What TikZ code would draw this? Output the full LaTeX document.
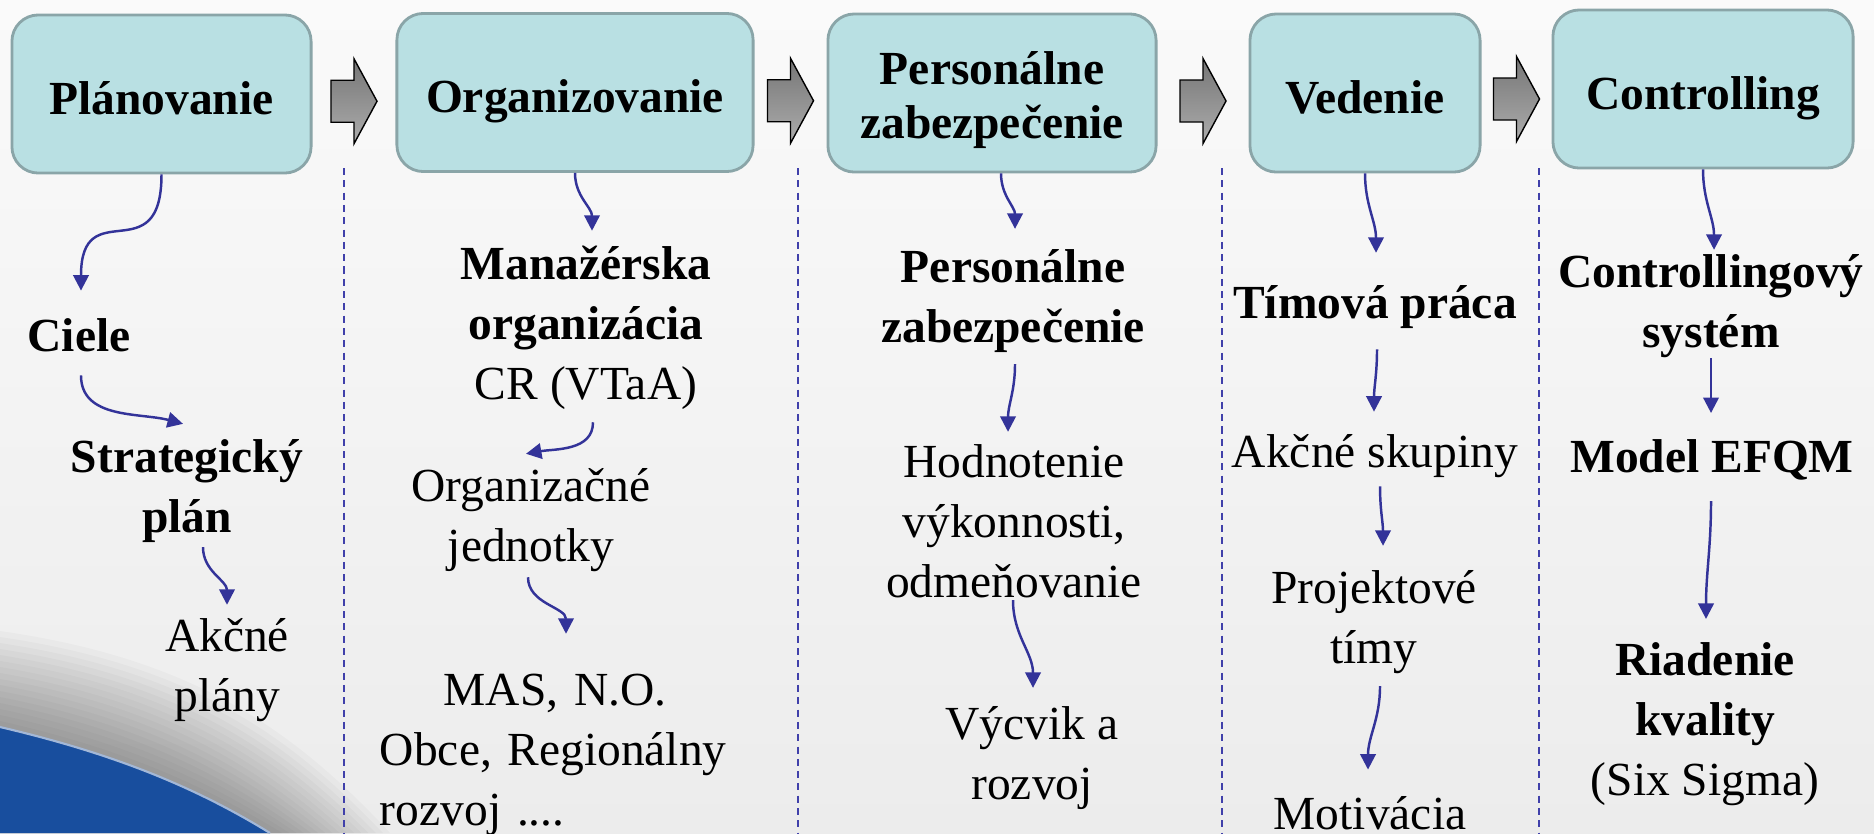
\documentclass[tikz,border=0pt]{standalone}
\usepackage{fontspec}
\setmainfont{Liberation Serif}
\usetikzlibrary{positioning,arrows.meta,calc}

\definecolor{boxfill}{RGB}{185,224,227}
\definecolor{boxline}{RGB}{138,165,168}
\definecolor{linkblue}{RGB}{51,51,153}
\definecolor{sepblue}{RGB}{64,64,170}
\definecolor{swoosh}{RGB}{24,78,158}
\definecolor{bgtop}{RGB}{250,250,250}
\definecolor{bgbot}{RGB}{236,236,236}
\definecolor{arrtop}{RGB}{118,118,118}
\definecolor{arrbot}{RGB}{172,172,172}

\newcommand{\bodyfont}{\fontsize{13.5pt}{17pt}\selectfont}

\tikzset{
  phase/.style={draw=boxline, line width=0.8pt, fill=boxfill, rounded corners=7.5pt,
    align=center, font=\fontsize{13.5pt}{15.5pt}\selectfont\bfseries,
    minimum height=1.58cm, inner sep=0pt, text height=12.8pt, text depth=1.2pt},
  item/.style={align=center, inner sep=0pt, font=\bodyfont},
  itemb/.style={item, font=\bodyfont\bfseries},
  link/.style={draw=linkblue, line width=0.7pt, -{Triangle[width=4.4pt,length=4.4pt]}},
  sep/.style={sepblue, line width=0.55pt, dash pattern=on 2pt off 1.5pt},
  gaparrow/.style={draw=black, line width=0.4pt, top color=arrtop, bottom color=arrbot},
}

% grey block arrow halfway between two phase boxes
\newcommand{\gapArrow}[2]{%
  \coordinate (#1-#2) at ($(#1.east)!0.5!(#2.west)+(0,-8)$);
  \draw[gaparrow] ($(#1-#2)+(-23,21)$) -- ++(23,0) -- ++(0,21.5) -- ++(23,-42.5)
    -- ++(-23,-42.5) -- ++(0,21.5) -- ++(-23,0) -- cycle;}

\begin{document}
\begin{tikzpicture}[x=0.01cm, y=0.01cm]
  \useasboundingbox (0,0) rectangle (1874,-833);
  % background
  \shade[top color=bgtop, bottom color=bgbot] (0,0) rectangle (1874,-833);
  \foreach \d in {96,90,...,6}
    \fill[black, opacity=0.022] (0,-727+\d) .. controls (120+0.8*\d,-755+\d) and (200+\d,-790+0.6*\d)
      .. (275+1.2*\d,-833) -- (0,-833) -- cycle;
  \fill[swoosh] (0,-727) .. controls (120,-755) and (200,-790) .. (270,-833) -- (0,-833) -- cycle;
  \draw[white!60!swoosh, line width=0.6pt] (0,-727) .. controls (120,-755) and (200,-790) .. (270,-833);

  % phases
  \node[phase, minimum width=2.99cm] (plan) at (161.5,-94) {Plánovanie};
  \node[phase, minimum width=3.56cm] (org)  at (575,-92.5) {Organizovanie};
  \node[phase, minimum width=3.28cm, text height={}, text depth={}] (pers) at (992,-93)
    {\rule{0pt}{13.5pt}Personálne\\zabezpečenie};
  \node[phase, minimum width=2.30cm] (ved)  at (1365,-93) {Vedenie};
  \node[phase, minimum width=3.00cm] (ctrl) at (1703,-89) {Controlling};

  \gapArrow{plan}{org}
  \gapArrow{org}{pers}
  \gapArrow{pers}{ved}
  \gapArrow{ved}{ctrl}

  \foreach \x in {344,798,1222,1539}
    \draw[sep] (\x,-168) -- (\x,-833);

  % column texts
  \node[itemb] (ciele) at (79,-335) {Ciele};
  \node[itemb] (strat) at (187,-491) {Strategický\\plán};
  \node[item]  (akcne) at (227,-670) {Akčné\\plány};

  \node[item] (manaz) at (586,-328) {\textbf{Manažérska}\\\textbf{organizácia}\\CR (VTaA)};
  \node[item] (orgj)  at (531,-520) {Organizačné\\jednotky};
  \node[item, align=left, text width=3.5cm] (mas) at (555,-755)
    {\makebox[\linewidth][c]{MAS, N.O.}\\Obce, Regionálny\\rozvoj ....};

  \node[itemb] (persz)  at (1013,-301) {Personálne\\zabezpečenie};
  \node[item]  (hodn)   at (1014,-521) {Hodnotenie\\výkonnosti,\\odmeňovanie};
  \node[item]  (vycvik) at (1032,-758) {Výcvik a\\rozvoj};

  \node[itemb] (timova) at (1375,-307) {Tímová práca};
  \node[item]  (akcsk)  at (1375,-456) {Akčné skupiny};
  \node[item]  (proj)   at (1374,-622) {Projektové\\tímy};
  \node[item]  (motiv)  at (1370,-813) {Motivácia};

  \node[itemb] (ctrlsys) at (1711,-306) {Controllingový\\systém};
  \node[itemb] (efqm)    at (1712,-460) {Model EFQM};
  \node[item]  (riad)    at (1705,-724) {\textbf{Riadenie}\\\textbf{kvality}\\(Six Sigma)};

  % links
  \draw[link] (plan.south) to[out=-90,in=90,looseness=1.8] ($(ciele.north)+(2,27)$);
  \draw[link] ($(ciele.south)+(2,-23)$) to[out=-90,in=165] ($(strat.north)+(-4,15)$);
  \draw[link] ($(strat.south)+(16,-4)$) to[out=-90,in=90] ($(akcne.north)+(0,13)$);

  \draw[link] (org.south) to[out=-90,in=90] ($(manaz.north)+(6,15)$);
  \draw[link] ($(manaz.south)+(7,-12)$) to[out=-90,in=10] ($(orgj.north)+(-5,14)$);
  \draw[link] ($(orgj.south)+(-3,-5)$) to[out=-90,in=90] ($(mas.north)+(11,40)$);

  \draw[link] ($(pers.south)+(9,0)$) to[out=-90,in=90] ($(persz.north)+(2,20)$);
  \draw[link] ($(persz.south)+(2,-11)$) to[out=-90,in=90] ($(hodn.north)+(-6,12)$);
  \draw[link] ($(hodn.south)+(-1,-2)$) to[out=-90,in=90] ($(vycvik.north)+(1,18)$);

  \draw[link] (ved.south) to[out=-90,in=90] ($(timova.north)+(1,32)$);
  \draw[link] ($(timova.south)+(2,-20)$) to[out=-90,in=90] ($(akcsk.north)+(-1,22)$);
  \draw[link] ($(akcsk.south)+(5,-8)$) to[out=-90,in=90] ($(proj.north)+(9,24)$);
  \draw[link] ($(proj.south)+(6,-12)$) to[out=-90,in=90] ($(motiv.north)+(-2,26)$);

  \draw[link] (ctrl.south) to[out=-90,in=90] ($(ctrlsys.north)+(3,4)$);
  \draw[link] (ctrlsys.south) to[out=-90,in=90] ($(efqm.north)+(-1,26)$);
  \draw[link] ($(efqm.south)+(-1,-20)$) to[out=-90,in=90] ($(riad.north)+(1,23)$);
\end{tikzpicture}
\end{document}
